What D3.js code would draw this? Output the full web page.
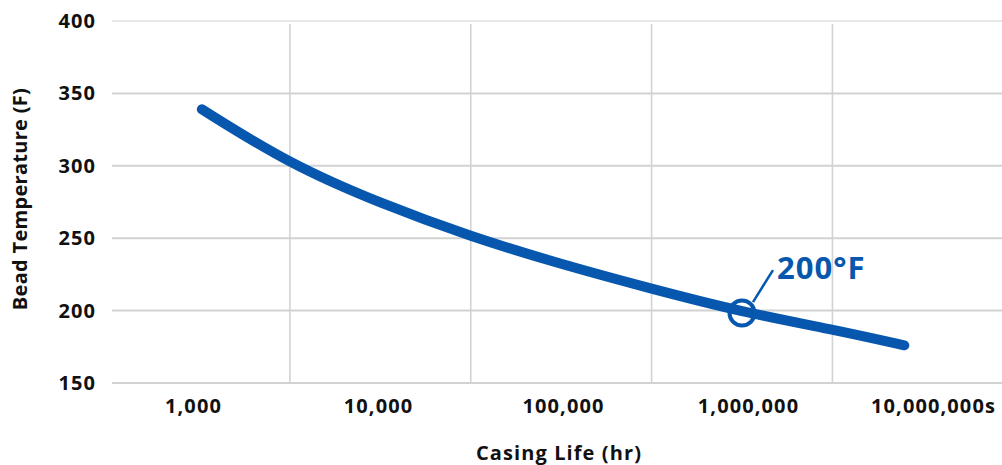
<!DOCTYPE html>
<html>
<head>
<meta charset="utf-8">
<script src="https://cdn.jsdelivr.net/npm/d3@7"></script>
<style>
  html, body { margin: 0; padding: 0; background: #fff; }
  svg { display: block; }
  text { font-family: "Open Sans", "DejaVu Sans", sans-serif; font-weight: 700; }
</style>
</head>
<body>
<svg id="chart" width="1002" height="465"></svg>
<script>
// ---- data ----
const categories = ["1,000", "10,000", "100,000", "1,000,000", "10,000,000s"];
const yTicks = [150, 200, 250, 300, 350, 400];
const gridHours = [3162, 31623, 316228, 3162278];
const lifeHours = [1030, 3162, 10000, 31623, 100000, 316228, 1000000, 3162278, 7900000];
const beadTemps = [339, 301, 274, 251, 232, 215, 199, 187, 176];
const markerHours = [1000000];
const markerTemps = [199];
const markerLabel = "200°F";
const xTitle = "Casing Life (hr)";
const yTitle = "Bead Temperature (F)";

// ---- layout ----
const svg = d3.select("#chart");
const plotLeft = 112, plotRight = 1002, plotTop = 21, plotBottom = 383;
const blue = "#0657ad";
const ink = "#111";

const y = d3.scaleLinear().domain([150, 400]).range([plotBottom, plotTop]);
const x = d3.scaleLog().domain([1000, 1000000]).range([199.5, 742]);
const xCat = d3.scalePoint().domain(categories).range([193, 933]);

// horizontal gridlines
svg.append("g").selectAll("line").data(yTicks).join("line")
  .attr("x1", plotLeft).attr("x2", plotRight)
  .attr("y1", d => y(d)).attr("y2", d => y(d))
  .attr("stroke", d => d === 400 ? "#e8e8e8" : "#d2d2d2")
  .attr("stroke-width", 2);

// vertical gridlines
svg.append("g").selectAll("line").data(gridHours).join("line")
  .attr("x1", d => x(d)).attr("x2", d => x(d))
  .attr("y1", y(400) + 3).attr("y2", plotBottom)
  .attr("stroke", "#d2d2d2")
  .attr("stroke-width", 1.6);

function styleTicks(sel) {
  sel.selectAll("text").attr("font-size", 20).attr("fill", ink)
    .style("letter-spacing", "1.1px")
    .style("font-family", "'Open Sans', sans-serif").style("font-weight", 700);
}

// y axis labels
const yAxis = d3.axisLeft(y).tickValues(yTicks).tickSize(0).tickPadding(0);
const gy = svg.append("g").attr("transform", "translate(96,0)").call(yAxis);
gy.select(".domain").remove();
styleTicks(gy);

// x axis labels
const xAxis = d3.axisBottom(xCat).tickSize(0).tickPadding(0);
const gx = svg.append("g").attr("transform", "translate(0,399)").call(xAxis);
gx.select(".domain").remove();
styleTicks(gx);

// axis titles
svg.append("text").attr("x", 559).attr("y", 460).attr("text-anchor", "middle")
  .attr("font-size", 20).attr("fill", ink).style("letter-spacing", "1.1px").text(xTitle);
svg.append("text").attr("transform", "translate(27,199) rotate(-90)")
  .attr("text-anchor", "middle").attr("font-size", 20).attr("fill", ink)
  .style("letter-spacing", "0.3px").text(yTitle);

// curve
const pts = lifeHours.map((h, i) => [h, beadTemps[i]]);
svg.append("path")
  .attr("d", d3.line().x(d => x(d[0])).y(d => y(d[1])).curve(d3.curveBasis)(pts))
  .attr("fill", "none").attr("stroke", blue).attr("stroke-width", 10)
  .attr("stroke-linecap", "round");

// marker
const mx = x(markerHours[0]), my = y(markerTemps[0]);
svg.append("circle").attr("cx", mx).attr("cy", my + 1).attr("r", 12.5)
  .attr("fill", "none").attr("stroke", blue).attr("stroke-width", 4);
svg.append("line")
  .attr("x1", mx + 11).attr("y1", my - 10)
  .attr("x2", mx + 31).attr("y2", my - 42)
  .attr("stroke", blue).attr("stroke-width", 2.5);
svg.append("text").attr("x", mx + 35).attr("y", my - 33)
  .attr("font-size", 31).attr("fill", blue).style("letter-spacing", "1px").text(markerLabel);
</script>
</body>
</html>
